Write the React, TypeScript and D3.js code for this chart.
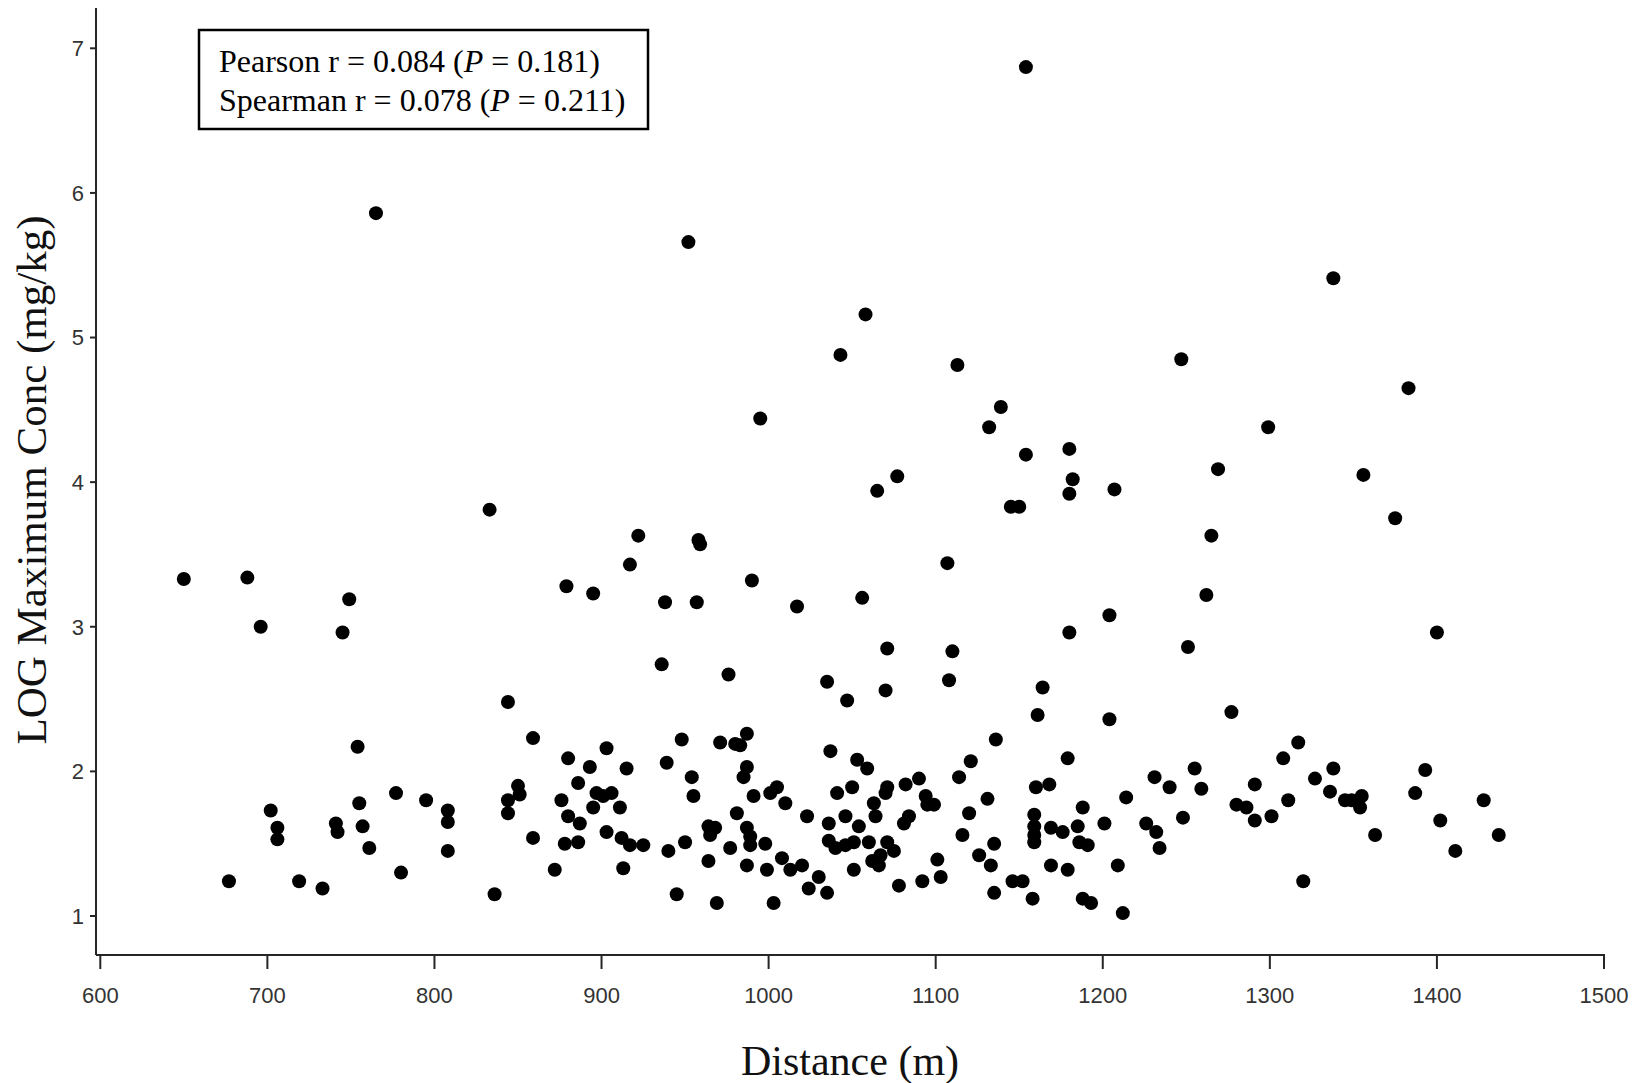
import React from "react";
import * as d3 from "d3";

const W = 1644;
const H = 1083;

// Distance (m), LOG Maximum Conc (mg/kg)
const distance: number[] = [
  // low band, left
  844, 859, 754, 903, 880, 893, 915, 886, 850, 851, 897, 901, 906, 777, 795, 844, 876, 755, 702, 808,
  808, 895, 911, 844, 880, 706, 706, 741, 742, 757, 887, 903, 859, 912, 917, 878, 886, 925, 761, 808,
  872, 913, 780, 677, 719, 733, 836,
  // low band, middle
  976, 1035, 1070, 1108, 1164, 1047, 1161, 948, 971, 980, 983, 987, 1136, 1037, 1053, 1059, 1179, 1121, 1114, 939,
  954, 955, 987, 985, 991, 1001, 1005, 1010, 1041, 1050, 1071, 1070, 1082, 1090, 1094, 1099, 1095, 1063, 1064, 1131,
  1120, 1116, 1135, 1160, 1168, 1159, 1159, 1159, 1159, 1169, 1176, 1188, 1185, 1186, 1191, 950, 940, 964, 968, 965,
  977, 981, 964, 987, 989, 989, 998, 987, 999, 1008, 1013, 1020, 1023, 1030, 1024, 1035, 1036, 1036, 1040, 1046,
  1051, 1046, 1054, 1060, 1071, 1075, 1067, 1062, 1066, 1081, 1084, 1051, 1078, 1092, 1101, 1103, 1126, 1133, 1135, 1169,
  1179, 1146, 1152, 1158, 1188, 1193, 945, 969, 1003,
  // low band, right
  1204, 1277, 1214, 1201, 1209, 1212, 1231, 1240, 1255, 1259, 1226, 1232, 1248, 1234, 1291, 1280, 1286, 1291, 1301, 1311,
  1308, 1317, 1320, 1327, 1338, 1336, 1345, 1349, 1355, 1354, 1363, 1387, 1393, 1402, 1411, 1428, 1437,
  // middle band
  650, 688, 749, 696, 745, 833, 879, 895,
  995, 1132, 1154, 1180, 1182, 1180, 1077, 1065, 1145, 1150, 922, 958, 959, 917, 1107, 990, 938, 957, 1017, 1056,
  1180, 1204, 936, 1071, 1110,
  1299, 1269, 1207, 1356, 1375, 1265, 1262, 1251, 1400,
  // upper
  1154, 765, 952, 1338, 1058, 1043, 1247, 1113, 1383, 1139,
];

const logConc: number[] = [
  2.48, 2.23, 2.17, 2.16, 2.09, 2.03, 2.02, 1.92, 1.90, 1.84, 1.85, 1.83, 1.85, 1.85, 1.80, 1.80, 1.80, 1.78, 1.73, 1.73,
  1.65, 1.75, 1.75, 1.71, 1.69, 1.61, 1.53, 1.64, 1.58, 1.62, 1.64, 1.58, 1.54, 1.54, 1.49, 1.50, 1.51, 1.49, 1.47, 1.45,
  1.32, 1.33, 1.30, 1.24, 1.24, 1.19, 1.15,
  2.67, 2.62, 2.56, 2.63, 2.58, 2.49, 2.39, 2.22, 2.20, 2.19, 2.18, 2.26, 2.22, 2.14, 2.08, 2.02, 2.09, 2.07, 1.96, 2.06,
  1.96, 1.83, 2.03, 1.96, 1.83, 1.85, 1.89, 1.78, 1.85, 1.89, 1.89, 1.85, 1.91, 1.95, 1.83, 1.77, 1.77, 1.78, 1.69, 1.81,
  1.71, 1.56, 1.50, 1.89, 1.91, 1.70, 1.62, 1.56, 1.51, 1.61, 1.58, 1.75, 1.62, 1.51, 1.49, 1.51, 1.45, 1.62, 1.61, 1.56,
  1.47, 1.71, 1.38, 1.61, 1.55, 1.49, 1.50, 1.35, 1.32, 1.40, 1.32, 1.35, 1.69, 1.27, 1.19, 1.16, 1.64, 1.52, 1.47, 1.49,
  1.51, 1.69, 1.62, 1.51, 1.51, 1.45, 1.42, 1.38, 1.35, 1.64, 1.69, 1.32, 1.21, 1.24, 1.39, 1.27, 1.42, 1.35, 1.16, 1.35,
  1.32, 1.24, 1.24, 1.12, 1.12, 1.09, 1.15, 1.09, 1.09,
  2.36, 2.41, 1.82, 1.64, 1.35, 1.02, 1.96, 1.89, 2.02, 1.88, 1.64, 1.58, 1.68, 1.47, 1.91, 1.77, 1.75, 1.66, 1.69, 1.80,
  2.09, 2.20, 1.24, 1.95, 2.02, 1.86, 1.80, 1.80, 1.83, 1.75, 1.56, 1.85, 2.01, 1.66, 1.45, 1.80, 1.56,
  3.33, 3.34, 3.19, 3.00, 2.96, 3.81, 3.28, 3.23,
  4.44, 4.38, 4.19, 4.23, 4.02, 3.92, 4.04, 3.94, 3.83, 3.83, 3.63, 3.60, 3.57, 3.43, 3.44, 3.32, 3.17, 3.17, 3.14, 3.20,
  2.96, 3.08, 2.74, 2.85, 2.83,
  4.38, 4.09, 3.95, 4.05, 3.75, 3.63, 3.22, 2.86, 2.96,
  6.87, 5.86, 5.66, 5.41, 5.16, 4.88, 4.85, 4.81, 4.65, 4.52,
];

const xTicks: number[] = [600, 700, 800, 900, 1000, 1100, 1200, 1300, 1400, 1500];
const yTicks: number[] = [1, 2, 3, 4, 5, 6, 7];

const xTitle = "Distance (m)";
const yTitle = "LOG Maximum Conc (mg/kg)";
const statLines = [
  { name: "Pearson", r: "0.084", p: "0.181" },
  { name: "Spearman", r: "0.078", p: "0.211" },
];

export default function App() {
  const axisLeft = 96;
  const axisBottom = 955;
  const axisTop = 8;

  const x = d3.scaleLinear().domain([600, 1500]).range([100.3, 1604]);
  const y = d3.scaleLinear().domain([1, 7]).range([916, 48.3]);

  const points = distance.map((d, i) => ({ x: d, y: logConc[i] }));
  const axisColor = "#262626";
  const tickFont = "'Liberation Sans', Arial, sans-serif";
  const serif = "'Liberation Serif', 'Times New Roman', serif";

  return (
    <svg
      width={W}
      height={H}
      viewBox={`0 0 ${W} ${H}`}
      style={{ position: "absolute", left: 0, top: 0, background: "#fff" }}
    >
      <rect x={0} y={0} width={W} height={H} fill="#fff" />

      {/* points */}
      <g>
        {points.map((p, i) => (
          <circle key={i} cx={x(p.x)} cy={y(p.y)} r={7} fill="#000" />
        ))}
      </g>

      {/* y axis */}
      <line x1={axisLeft} x2={axisLeft} y1={axisTop} y2={axisBottom} stroke={axisColor} strokeWidth={2} />
      {yTicks.map((t) => (
        <g key={t}>
          <line x1={axisLeft - 6} x2={axisLeft} y1={y(t)} y2={y(t)} stroke={axisColor} strokeWidth={2} />
          <text
            x={axisLeft - 12}
            y={y(t)}
            dy="0.36em"
            textAnchor="end"
            fontFamily={tickFont}
            fontSize={22}
            fill="#333"
          >
            {t}
          </text>
        </g>
      ))}

      {/* x axis */}
      <line x1={axisLeft} x2={x(1500) + 1} y1={axisBottom} y2={axisBottom} stroke={axisColor} strokeWidth={2} />
      {xTicks.map((t) => (
        <g key={t}>
          <line x1={x(t)} x2={x(t)} y1={axisBottom} y2={axisBottom + 14} stroke={axisColor} strokeWidth={2} />
          <text
            x={x(t)}
            y={1003}
            textAnchor="middle"
            fontFamily={tickFont}
            fontSize={22}
            fill="#333"
          >
            {t}
          </text>
        </g>
      ))}

      {/* axis titles */}
      <text x={850} y={1075} textAnchor="middle" fontFamily={serif} fontSize={42} fill="#111">
        {xTitle}
      </text>
      <text
        transform={`translate(46, 480) rotate(-90)`}
        textAnchor="middle"
        fontFamily={serif}
        fontSize={43}
        fill="#111"
      >
        {yTitle}
      </text>

      {/* stats box */}
      <rect x={199} y={30} width={449} height={99} fill="#fff" stroke="#000" strokeWidth={2.5} />
      {statLines.map((s, i) => (
        <text key={s.name} x={219} y={72 + i * 39} fontFamily={serif} fontSize={32} fill="#000">
          {`${s.name} r = ${s.r} (`}
          <tspan fontStyle="italic">P</tspan>
          {` = ${s.p})`}
        </text>
      ))}
    </svg>
  );
}
